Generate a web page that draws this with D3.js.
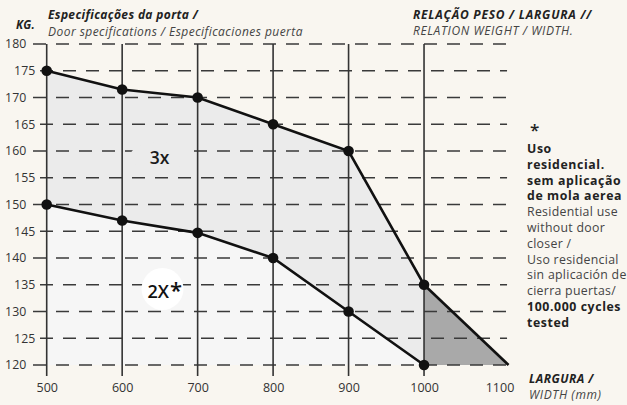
<!DOCTYPE html>
<html>
<head>
<meta charset="utf-8">
<script src="https://cdn.jsdelivr.net/npm/d3@7"></script>
<style>
  html, body { margin: 0; padding: 0; background: #f9f6f0; }
  svg { display: block; font-family: "Open Sans", sans-serif; }
</style>
</head>
<body>
<svg id="chart" width="627" height="405"></svg>
<script>
// Door width (mm) against maximum leaf weight (kg)
const widths = [500, 600, 700, 800, 900, 1000];
const weights3x = [175, 171.5, 170, 165, 160, 135];
const weights2x = [150, 147, 144.7, 140, 130, 120];
const tailWidths = [1000, 1112];
const tailWeights = [135, 120];
const xTickLabels = [500, 600, 700, 800, 900, 1000, 1100];
const yTickLabels = [120, 125, 130, 135, 140, 145, 150, 155, 160, 165, 170, 175, 180];
const noteBold = ["Uso", "residencial.", "sem aplicação", "de mola aerea"];
const noteRegular = ["Residential use", "without door", "closer /", "Uso residencial", "sin aplicación de", "cierra puertas/"];
const noteBoldEnd = ["100.000 cycles", "tested"];

const svg = d3.select("#chart");
const x = d3.scaleLinear().domain([500, 1100]).range([46.7, 499.5]);
const y = d3.scaleLinear().domain([120, 180]).range([365, 44]);

svg.append("rect").attr("width", 627).attr("height", 405).attr("fill", "#f9f6f0");

// Filled bands
const lowerArea = d3.area()
  .x((d, i) => x(widths[i]))
  .y0(y(120))
  .y1(d => y(d));
svg.append("path").datum(weights2x).attr("d", lowerArea).attr("fill", "#f6f6f6");

const bandArea = d3.area()
  .x((d, i) => x(widths[i]))
  .y0((d, i) => y(weights2x[i]))
  .y1(d => y(d));
svg.append("path").datum(weights3x).attr("d", bandArea).attr("fill", "#ebebeb");

const tailArea = d3.area()
  .x((d, i) => x(tailWidths[i]))
  .y0(y(120))
  .y1(d => y(d));
svg.append("path").datum(tailWeights).attr("d", tailArea).attr("fill", "#a9a9a9");

// Horizontal dashed grid
svg.append("g").selectAll("line").data(yTickLabels).join("line")
  .attr("x1", d => d % 10 === 0 ? 33 : 40)
  .attr("x2", x(1110))
  .attr("y1", d => y(d)).attr("y2", d => y(d))
  .attr("stroke", "#3a3a3a").attr("stroke-width", 1.5)
  .attr("stroke-dasharray", "13,10");

// Vertical grid
svg.append("g").selectAll("line").data(widths).join("line")
  .attr("x1", d => x(d)).attr("x2", d => x(d))
  .attr("y1", y(180)).attr("y2", 376)
  .attr("stroke", "#333").attr("stroke-width", 1.6);

// Label backdrops
svg.append("ellipse").attr("cx", 160).attr("cy", 156).attr("rx", 30).attr("ry", 14).attr("fill", "#ebebeb");
svg.append("circle").attr("cx", 162.5).attr("cy", 289).attr("r", 21).attr("fill", "#ffffff");

// Weight limit lines
const line = d3.line().x((d, i) => x(widths[i])).y(d => y(d));
svg.append("path").datum(weights3x).attr("d", line)
  .attr("fill", "none").attr("stroke", "#111").attr("stroke-width", 2.6);
svg.append("path").datum(weights2x).attr("d", line)
  .attr("fill", "none").attr("stroke", "#111").attr("stroke-width", 2.6);
const tailLine = d3.line().x((d, i) => x(tailWidths[i])).y(d => y(d));
svg.append("path").datum(tailWeights).attr("d", tailLine)
  .attr("fill", "none").attr("stroke", "#111").attr("stroke-width", 2.6);

// Points
[weights3x, weights2x].forEach(series => {
  svg.append("g").selectAll("circle").data(series).join("circle")
    .attr("cx", (d, i) => x(widths[i])).attr("cy", d => y(d))
    .attr("r", 5.3).attr("fill", "#111");
});

// Axes
const xAxis = svg.append("g").attr("transform", `translate(0,${y(120)})`)
  .call(d3.axisBottom(x).tickValues(xTickLabels).tickSize(0).tickPadding(18).tickFormat(d3.format("d")));
xAxis.select(".domain").remove();
xAxis.selectAll("text").attr("font-size", 12.5).attr("fill", "#333").attr("font-family", "Open Sans, sans-serif");

const yAxis = svg.append("g").attr("transform", `translate(${x(500)},0)`)
  .call(d3.axisLeft(y).tickValues(yTickLabels).tickSize(0).tickPadding(20).tickFormat(d3.format("d")));
yAxis.select(".domain").remove();
yAxis.selectAll("text").attr("font-size", 12.3).attr("fill", "#333").attr("font-family", "Open Sans, sans-serif")
  .attr("x", d => d % 10 === 0 ? -20.5 : -11.5);

// Band labels
svg.append("text").attr("x", 159.5).attr("y", 164).attr("text-anchor", "middle")
  .attr("font-size", 17.5).attr("font-weight", 600).attr("fill", "#1a1a1a").text("3x");
const t2 = svg.append("text").attr("x", 147.5).attr("y", 298).attr("font-size", 18)
  .attr("font-weight", 600).attr("fill", "#111");
t2.append("tspan").text("2X");
t2.append("tspan").attr("dx", 1).attr("font-size", 22).text("*");

// Headers
const header = (tx, ty, size, bold, color, str, ls) =>
  svg.append("text").attr("x", tx).attr("y", ty).attr("font-size", size)
    .attr("font-weight", bold ? 700 : 400).attr("font-style", "italic")
    .attr("letter-spacing", ls).attr("fill", color).text(str);
header(16, 29, 11.5, true, "#222", "KG.", 0.2);
header(48, 19, 12, true, "#222", "Especificações da porta /", 0.35);
header(48, 36, 12, false, "#444", "Door specifications / Especificaciones puerta", 0.45);
header(413, 19, 12, true, "#222", "RELAÇÃO PESO / LARGURA //", 0.75);
header(413, 35, 12, false, "#444", "RELATION WEIGHT / WIDTH.", 0.6);
header(529, 383, 12, true, "#222", "LARGURA /", 0.45);
header(529, 399, 12, false, "#444", "WIDTH (mm)", 0.6);

// Usage note
svg.append("text").attr("x", 530).attr("y", 135.5).attr("font-size", 17)
  .attr("font-weight", 600).attr("fill", "#222").text("*");
const noteLines = [
  ...noteBold.map(t => ({ t, b: true })),
  ...noteRegular.map(t => ({ t, b: false })),
  ...noteBoldEnd.map(t => ({ t, b: true }))
];
svg.append("g").selectAll("text").data(noteLines).join("text")
  .attr("x", 527).attr("y", (d, i) => 153 + i * 15.8)
  .attr("font-size", 12.3)
  .attr("font-weight", d => d.b ? 700 : 400)
  .attr("letter-spacing", d => d.b ? 0.6 : 0.3)
  .attr("fill", d => d.b ? "#222" : "#444")
  .text(d => d.t);
</script>
</body>
</html>
